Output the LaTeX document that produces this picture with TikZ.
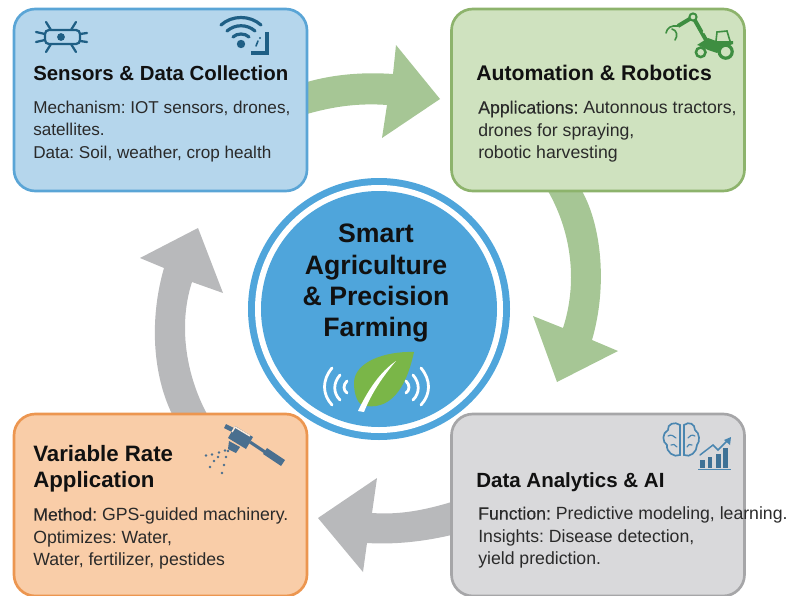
\documentclass[tikz,border=0pt]{standalone}
\usepackage{fontspec}
\setmainfont{Liberation Sans}
\newfontfamily\medfont[FakeBold=0.25]{Liberation Sans}
\usetikzlibrary{calc,backgrounds}
\frenchspacing
\definecolor{bluefill}{HTML}{B5D6EC}
\definecolor{blueline}{HTML}{5AA5D6}
\definecolor{greenfill}{HTML}{CFE2BF}
\definecolor{greenline}{HTML}{8DB36C}
\definecolor{orangefill}{HTML}{F9CDA8}
\definecolor{orangeline}{HTML}{EC9650}
\definecolor{grayfill}{HTML}{D9D9DB}
\definecolor{grayline}{HTML}{A6A6A8}
\definecolor{arrowgreen}{HTML}{A6C695}
\definecolor{arrowgray}{HTML}{B8B9BB}
\definecolor{hubblue}{HTML}{4FA5DB}
\definecolor{leafgreen}{HTML}{7AB648}
\definecolor{icondark}{HTML}{1F5F85}
\definecolor{icontractor}{HTML}{3E8E41}
\definecolor{iconspray}{HTML}{4A6F8F}
\definecolor{iconbrain}{HTML}{4A86B0}
\definecolor{inktitle}{HTML}{111111}
\definecolor{inkbody}{HTML}{2A2A2A}
\tikzset{
  panel/.style={draw,line width=2pt,rounded corners=16pt,minimum width=219.75pt,minimum height=136.5pt,inner sep=0pt,outer sep=0pt},
  paneltitle/.style={anchor=north west,inner sep=0pt,align=left,text=inktitle,font=\fontsize{#1}{19.8pt}\selectfont\bfseries},
  paneltitle/.default=15.4pt,
  panelbody/.style={anchor=north west,inner sep=0pt,align=left,text=inkbody,font=\fontsize{#1}{17pt}\selectfont},
  panelbody/.default=13.25pt,
  hubtext/.style={inner sep=0pt,align=center,text=inktitle,font=\fontsize{20pt}{23.4pt}\selectfont\bfseries},
}
\begin{document}
\begin{tikzpicture}[x=0.75pt,y=-0.75pt]
\useasboundingbox (0,0) rectangle (789,596);
% panels
\node[panel,fill=bluefill,draw=blueline] (sensors) at (160.5,100) {};
\node[panel,fill=greenfill,draw=greenline] (automation) at (598,100) {};
\node[panel,fill=orangefill,draw=orangeline] (variable) at (160.5,505) {};
\node[panel,fill=grayfill,draw=grayline] (analytics) at (598,505) {};
% block arrows
\begin{scope}[on background layer]
\fill[arrowgreen] ($(sensors.east)+(0,-18)$) .. controls (335,74) and (365,72) .. (393,74)
  -- (396,45) -- (440,99) -- (382,138) -- (387,105)
  .. controls (360,103) and (335,106) .. ($(sensors.east)+(0,14)$) -- cycle;
\fill[arrowgreen] ($(automation.south)+(-50,0)$) -- ($(automation.south)+(-16,0)$)
  .. controls (601,225) and (608,285) .. (592,340)
  -- (618,351) -- (557,382) -- (533,316) -- (563,328)
  .. controls (577,285) and (573,235) .. ($(automation.south)+(-50,0)$) -- cycle;
\fill[arrowgray] ($(analytics.west)+(0,-3)$) .. controls (425,510) and (400,515) .. (372,513)
  -- (377,478) -- (318,518) -- (363,572) -- (367,543)
  .. controls (400,545) and (430,540) .. ($(analytics.west)+(0,30)$) -- cycle;
\fill[arrowgray] ($(variable.north)+(11.5,0)$) -- ($(variable.north)+(46.5,0)$)
  .. controls (186,375) and (178,325) .. (192,282)
  -- (223,293) -- (198,228) -- (140,258) -- (164,268)
  .. controls (149,320) and (153,375) .. ($(variable.north)+(11.5,0)$) -- cycle;
\end{scope}
% hub
\node[circle,fill=hubblue,minimum size=196.5pt,inner sep=0pt,outer sep=0pt] (hubouter) at (379,309) {};
\node[circle,fill=white,minimum size=186pt,inner sep=0pt,outer sep=0pt] (hubring) at (379,309) {};
\node[circle,fill=hubblue,minimum size=177pt,inner sep=0pt,outer sep=0pt] (hub) at (379,309) {};
\node[hubtext,anchor=north] (hubtitle) at (376,224) {Smart\\Agriculture\\\& Precision\\Farming};
% leaf
\fill[leafgreen] (414,352) .. controls (385,351) and (354,362) .. (354,383)
  .. controls (354,395) and (358,406) .. (366,406)
  .. controls (395,410) and (408,380) .. (414,352) -- cycle;
\fill[white] (358,411) .. controls (368,390) and (380,372) .. (396,361)
  .. controls (384,375) and (372,392) .. (364,412) -- cycle;
\begin{scope}[draw=white,line width=2.1pt,line cap=round]
\draw (332,368) .. controls (322,380) and (322,394) .. (332,405);
\draw (340,375) .. controls (333,383) and (333,393) .. (340,400);
\draw (347,381) .. controls (343,385) and (343,390) .. (347,393);
\draw (421,368) .. controls (431,380) and (431,394) .. (421,405);
\draw (413,375) .. controls (420,383) and (420,393) .. (413,400);
\draw (406,381) .. controls (410,385) and (410,390) .. (406,393);
\end{scope}
% panel texts
\node[paneltitle=15.3pt] (t1) at (33,65) {Sensors \& Data Collection};
\node[panelbody=12.85pt] (b1) at (33,100.5) {Mechanism: IOT sensors, drones,\\satellites.\\Data: Soil, weather, crop health};
\node[paneltitle=15.9pt] (t2) at (476,65) {Automation \& Robotics};
\node[panelbody] (b2) at (478,100.5) {{\medfont Applications:} Autonnous tractors,\\drones for spraying,\\robotic harvesting};
\node[paneltitle=16.7pt] (t3) at (33,445) {Variable Rate\\Application};
\node[panelbody] (b3) at (33,507.5) {{\medfont Method:} GPS-guided machinery.\\Optimizes: Water,\\Water, fertilizer, pestides};
\node[paneltitle] (t4) at (476,472) {Data Analytics \& AI};
\node[panelbody] (b4) at (478,506.5) {{\medfont Function:} Predictive modeling, learning.\\Insights: Disease detection,\\yield prediction.};
% sensor icon
\begin{scope}[draw=icondark,line width=1.7pt,line cap=round]
\draw[rounded corners=3pt] (45,30) rectangle (80,44);
\fill[icondark] (61,37) circle (3.9);
\draw (45,34) -- (36,32); \draw (45,40) -- (36,42);
\draw (80,34) -- (87,33); \draw (80,41) -- (87,42);
\draw (51,30) -- (46,22); \draw (51,44) -- (46,52);
\draw (71,30) -- (76,22); \draw (71,44) -- (76,52);
\end{scope}
% wifi icon
\begin{scope}[draw=icondark,line width=2.4pt,line cap=round]
\fill[icondark] (241,44) circle (4.2);
\draw (233,37) .. controls (237,33) and (245,33) .. (249,37);
\draw (227,31) .. controls (235,24) and (247,24) .. (255,31);
\draw (221,25) .. controls (232,15) and (250,15) .. (261,25);
\draw[line width=3pt,line cap=butt] (267,32) -- (267,53) -- (251,53);
\draw[line width=1.2pt] (256,46) -- (258,41);
\fill[icondark] (260,38) circle (1.2);
\end{scope}
% tractor icon
\begin{scope}[draw=icontractor]
\fill[icontractor] (697,45) -- (708,38) -- (716,41) -- (733,41) -- (733,44) -- (722,48) -- (717,53) -- (708,50) -- (700,46) -- cycle;
\draw[line width=1.2pt] (716,41) -- (717,32) -- (727,31) -- (730,41);
\draw[line width=2.4pt,fill=greenfill] (725.7,51.7) circle (6.5);
\draw[line width=1.9pt,fill=greenfill] (700.7,52.3) circle (4.8);
\draw[line width=3pt] (706,40) -- (693,17) -- (678,26);
\draw[line width=1.5pt,fill=greenfill] (693,17) circle (3.6);
\draw[line width=1.2pt,line cap=round] (678,26) .. controls (671,25) and (667,28) .. (666,33);
\draw[line width=1.2pt,line cap=round] (672,29) .. controls (677,30) and (678,36) .. (675,40);
\fill[greenfill] (704,32) circle (1.3);
\end{scope}
% sprayer icon
\fill[iconspray] (226,424) -- (236,429) -- (234,433) -- (224,428) -- cycle;
\fill[iconspray] (235,426) -- (253,437) -- (246,449) -- (228,438) -- cycle;
\draw[white!55!orangefill,line width=1.1pt] (232,432) -- (235,427) -- (250,436);
\fill[iconspray] (229,441) -- (240,447) -- (236,453) -- (228,449) -- cycle;
\draw[iconspray,line width=2.3pt] (250,442) -- (265,452);
\draw[iconspray,line width=5.4pt] (265,451) -- (283,463);
\foreach \dx/\dy in {206/455.5,212/454.5,219/452.5,225/450.5,210/467,214/461,218/457,222/473,224/465,226/457,228/451}
  \fill[iconspray] (\dx,\dy) circle (1.3);
% brain and chart icon
\begin{scope}[draw=iconbrain,line width=1.25pt,line cap=round]
\draw (680,425) .. controls (675,421) and (667,424) .. (668,430)
  .. controls (662,433) and (662,442) .. (667,445)
  .. controls (666,452) and (674,458) .. (680,455) -- cycle;
\draw (684,425) .. controls (689,421) and (695,424) .. (695,430)
  .. controls (700,433) and (700,442) .. (697,445)
  .. controls (697,452) and (690,458) .. (684,455) -- cycle;
\draw[line width=.9pt] (668,436) .. controls (671,434) and (674,436) .. (676,438);
\draw[line width=.9pt] (671,445) .. controls (673,443) and (675,445) .. (677,447);
\draw[line width=.9pt] (695,436) .. controls (692,434) and (689,436) .. (688,438);
\draw[line width=.9pt] (692,445) .. controls (690,443) and (688,445) .. (687,447);
\end{scope}
\foreach \xa/\xb/\yt in {700/705/460,708/712/457,716/721/454,723/728/448}
  \fill[iconbrain!85!black] (\xa,\yt) rectangle (\xb,468);
\draw[iconbrain,line width=1.2pt] (698,469.5) -- (731,469.5);
\draw[iconbrain,line width=1.1pt,line cap=round] (700,455) -- (713,445) -- (718,450) -- (728,440);
\fill[iconbrain] (731,437) -- (724,440) -- (730,445) -- cycle;
\end{tikzpicture}
\end{document}
